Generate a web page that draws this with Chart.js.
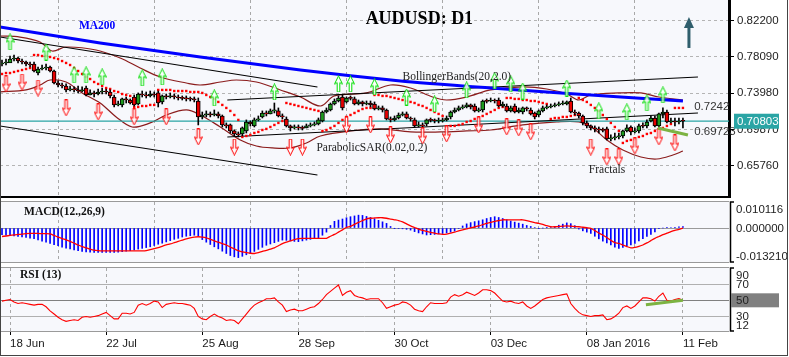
<!DOCTYPE html>
<html><head><meta charset="utf-8">
<script src="https://cdn.jsdelivr.net/npm/chart.js@4.4.1/dist/chart.umd.min.js"></script>
<style>
html,body{margin:0;padding:0;background:#fff;}
#wrap{position:relative;width:789px;height:357px;overflow:hidden;background:#fff;}
canvas{position:absolute;left:0;}
#frame{position:absolute;left:0;top:0;width:786px;height:355px;border-left:1px solid #444;border-right:1px solid #444;border-bottom:1px solid #444;pointer-events:none;}
</style></head>
<body><div id="wrap">
<canvas id="cMain" width="789" height="198" style="top:0px"></canvas>
<canvas id="cMacd" width="789" height="65" style="top:199px"></canvas>
<canvas id="cRsi" width="789" height="92" style="top:265px"></canvas>
<div id="frame"></div>
</div>
<script>
// ---------- data ----------
const xTickIndex = [2,26,50,74,98,122,146,170];
const xTickLabels = ['18 Jun','22 Jul','25 Aug','28 Sep','30 Oct','03 Dec','08 Jan 2016','11 Feb'];
const priceTicks = [0.6576,0.6987,0.7398,0.7809,0.8220];
const lastPrice = 0.70803;
const macdTicks = [0.010116,0,-0.013210];
const rsiTicks = [90,70,50,30,12];

const openP = [0.7729,0.7741,0.7741,0.7786,0.7797,0.7763,0.7752,0.7729,0.7729,0.7627,
0.7673,0.7684,0.7695,0.7650,0.7514,0.7491,0.7480,0.7435,0.7446,0.7435,
0.7423,0.7457,0.7378,0.7401,0.7389,0.7412,0.7423,0.7412,0.7355,0.7265,
0.7265,0.7333,0.7321,0.7355,0.7276,0.7389,0.7378,0.7367,0.7389,0.7401,
0.7299,0.7367,0.7355,0.7367,0.7355,0.7344,0.7344,0.7333,0.7333,0.7310,
0.7129,0.7151,0.7163,0.7151,0.7163,0.7140,0.7038,0.7038,0.6970,0.6936,
0.6936,0.6970,0.7072,0.7027,0.7095,0.7129,0.7174,0.7163,0.7197,0.7197,
0.7140,0.7106,0.7027,0.7004,0.7015,0.7004,0.7004,0.7027,0.7038,0.7049,
0.7083,0.7185,0.7208,0.7276,0.7310,0.7355,0.7299,0.7344,0.7333,0.7276,
0.7299,0.7276,0.7287,0.7276,0.7219,0.7231,0.7208,0.7106,0.7095,0.7117,
0.7151,0.7163,0.7117,0.7095,0.7027,0.7038,0.7049,0.7095,0.7095,0.7083,
0.7083,0.7095,0.7129,0.7185,0.7208,0.7231,0.7242,0.7265,0.7253,0.7197,
0.7208,0.7310,0.7310,0.7321,0.7321,0.7253,0.7253,0.7197,0.7253,0.7185,
0.7185,0.7231,0.7208,0.7174,0.7151,0.7197,0.7231,0.7242,0.7253,0.7265,
0.7276,0.7276,0.7310,0.7185,0.7174,0.7140,0.7061,0.7027,0.7004,0.6993,
0.6981,0.6993,0.6879,0.6891,0.6902,0.6913,0.6970,0.7015,0.6959,0.6970,
0.7027,0.7027,0.7083,0.7117,0.7027,0.7163,0.7185,0.7072,0.7083,0.7072,
0.7083];
const highP = [0.7775,0.7786,0.7820,0.7831,0.7809,0.7786,0.7763,0.7752,0.7752,0.7695,
0.7718,0.7729,0.7707,0.7661,0.7537,0.7514,0.7503,0.7480,0.7469,0.7480,
0.7469,0.7480,0.7435,0.7423,0.7446,0.7457,0.7446,0.7435,0.7378,0.7310,
0.7344,0.7355,0.7333,0.7378,0.7401,0.7423,0.7412,0.7423,0.7412,0.7423,
0.7378,0.7389,0.7401,0.7389,0.7378,0.7367,0.7367,0.7355,0.7355,0.7344,
0.7185,0.7197,0.7185,0.7208,0.7185,0.7151,0.7061,0.7049,0.6981,0.6959,
0.7015,0.7095,0.7083,0.7117,0.7140,0.7197,0.7197,0.7219,0.7287,0.7231,
0.7163,0.7129,0.7038,0.7038,0.7038,0.7027,0.7049,0.7061,0.7072,0.7117,
0.7197,0.7231,0.7287,0.7333,0.7367,0.7378,0.7355,0.7367,0.7355,0.7321,
0.7310,0.7310,0.7310,0.7299,0.7253,0.7253,0.7219,0.7129,0.7140,0.7174,
0.7185,0.7185,0.7129,0.7117,0.7072,0.7061,0.7106,0.7117,0.7106,0.7117,
0.7117,0.7140,0.7197,0.7231,0.7253,0.7265,0.7287,0.7276,0.7276,0.7231,
0.7321,0.7333,0.7344,0.7333,0.7344,0.7299,0.7276,0.7253,0.7276,0.7231,
0.7242,0.7242,0.7231,0.7185,0.7208,0.7253,0.7265,0.7276,0.7287,0.7299,
0.7310,0.7310,0.7344,0.7208,0.7185,0.7151,0.7083,0.7038,0.7027,0.7015,
0.7004,0.7015,0.6925,0.6947,0.6947,0.6981,0.7038,0.7027,0.7004,0.7049,
0.7061,0.7095,0.7140,0.7140,0.7174,0.7231,0.7208,0.7117,0.7117,0.7117,
0.7117];
const lowP = [0.7707,0.7718,0.7752,0.7763,0.7741,0.7729,0.7707,0.7695,0.7639,0.7605,
0.7661,0.7661,0.7639,0.7503,0.7469,0.7457,0.7412,0.7423,0.7412,0.7401,
0.7412,0.7367,0.7378,0.7355,0.7378,0.7389,0.7389,0.7344,0.7242,0.7253,
0.7242,0.7287,0.7276,0.7253,0.7265,0.7355,0.7344,0.7355,0.7355,0.7242,
0.7276,0.7333,0.7344,0.7333,0.7321,0.7321,0.7310,0.7310,0.7299,0.7038,
0.7106,0.7129,0.7129,0.7140,0.7117,0.7015,0.7004,0.6947,0.6913,0.6902,
0.6913,0.6947,0.7027,0.7015,0.7083,0.7117,0.7140,0.7163,0.7174,0.7129,
0.7106,0.7015,0.6970,0.6993,0.6981,0.6981,0.7004,0.7015,0.7027,0.7038,
0.7072,0.7174,0.7197,0.7265,0.7299,0.7208,0.7287,0.7321,0.7265,0.7265,
0.7253,0.7265,0.7242,0.7208,0.7208,0.7185,0.7095,0.7072,0.7083,0.7106,
0.7140,0.7106,0.7083,0.7015,0.7015,0.7004,0.7027,0.7072,0.7061,0.7061,
0.7072,0.7083,0.7106,0.7174,0.7197,0.7219,0.7231,0.7219,0.7185,0.7185,
0.7185,0.7287,0.7299,0.7287,0.7242,0.7242,0.7185,0.7185,0.7174,0.7174,
0.7163,0.7197,0.7151,0.7106,0.7129,0.7185,0.7219,0.7231,0.7242,0.7253,
0.7265,0.7265,0.7174,0.7151,0.7117,0.7038,0.7004,0.6981,0.6959,0.6947,
0.6959,0.6868,0.6857,0.6868,0.6879,0.6891,0.6959,0.6925,0.6947,0.6947,
0.7004,0.7004,0.7072,0.7015,0.7015,0.7117,0.7061,0.7061,0.7027,0.7049,
0.7004];
const closeP = [0.7741,0.7752,0.7786,0.7797,0.7763,0.7752,0.7729,0.7718,0.7650,0.7673,
0.7684,0.7695,0.7650,0.7514,0.7491,0.7480,0.7435,0.7446,0.7435,0.7423,
0.7435,0.7378,0.7401,0.7389,0.7412,0.7423,0.7412,0.7367,0.7265,0.7276,
0.7333,0.7321,0.7287,0.7265,0.7389,0.7378,0.7367,0.7389,0.7378,0.7287,
0.7367,0.7355,0.7367,0.7355,0.7344,0.7340,0.7333,0.7330,0.7321,0.7129,
0.7151,0.7163,0.7151,0.7163,0.7140,0.7038,0.7027,0.6970,0.6936,0.6925,
0.7004,0.7072,0.7049,0.7095,0.7106,0.7174,0.7163,0.7197,0.7208,0.7140,
0.7129,0.7027,0.7004,0.7015,0.7004,0.7000,0.7027,0.7038,0.7049,0.7095,
0.7185,0.7208,0.7276,0.7310,0.7344,0.7231,0.7344,0.7340,0.7276,0.7299,
0.7276,0.7287,0.7265,0.7219,0.7231,0.7208,0.7106,0.7095,0.7117,0.7151,
0.7163,0.7117,0.7106,0.7027,0.7038,0.7027,0.7095,0.7090,0.7083,0.7087,
0.7095,0.7117,0.7185,0.7208,0.7231,0.7242,0.7265,0.7242,0.7197,0.7208,
0.7310,0.7306,0.7321,0.7310,0.7253,0.7276,0.7197,0.7231,0.7185,0.7208,
0.7231,0.7219,0.7163,0.7129,0.7197,0.7231,0.7242,0.7253,0.7265,0.7276,
0.7287,0.7299,0.7185,0.7174,0.7140,0.7061,0.7027,0.7004,0.6993,0.6981,
0.6977,0.6879,0.6891,0.6902,0.6913,0.6970,0.7004,0.6959,0.6970,0.7027,
0.7023,0.7072,0.7117,0.7027,0.7163,0.7185,0.7072,0.7083,0.7072,0.7083,
0.70803];
const sarP = [0.7616,0.7627,0.7627,0.7639,0.7650,0.7661,0.7673,0.7684,
0.7831,0.7831,0.7820,0.7820,0.7809,0.7797,0.7786,0.7763,0.7741,0.7718,0.7684,0.7650,0.7616,0.7582,0.7559,0.7525,0.7503,0.7480,0.7457,0.7446,0.7423,0.7412,0.7389,0.7378,0.7367,
0.7242,0.7242,0.7253,0.7253,0.7265,0.7265,
0.7435,0.7435,0.7435,0.7435,0.7423,0.7423,0.7423,0.7423,0.7412,0.7412,0.7412,0.7401,0.7378,0.7355,0.7333,0.7299,0.7265,0.7231,0.7197,0.7151,0.7095,
0.6902,0.6913,0.6925,0.6947,0.6959,0.6981,0.6993,0.7015,0.7038,0.7061,0.7083,
0.7287,0.7276,0.7265,0.7253,0.7242,0.7231,0.7219,0.7208,0.7197,
0.6970,0.6981,0.7004,0.7027,0.7061,0.7095,0.7129,0.7151,0.7174,0.7197,0.7219,0.7231,0.7231,
0.7378,0.7378,0.7367,0.7367,0.7355,0.7344,0.7333,0.7321,0.7310,0.7299,0.7287,0.7265,0.7253,0.7231,0.7208,0.7185,0.7163,0.7140,
0.7015,0.7027,0.7027,0.7038,0.7049,0.7072,0.7083,0.7106,0.7117,0.7140,0.7163,0.7185,0.7208,0.7231,0.7242,
0.7344,0.7344,0.7333,0.7333,0.7321,0.7321,0.7310,0.7310,0.7299,0.7287,0.7276,
0.7106,0.7117,0.7117,0.7129,0.7129,0.7140,0.7151,
0.7344,0.7321,0.7299,0.7265,0.7231,0.7197,0.7151,0.7106,0.7061,0.7015,0.6970,
0.6834,0.6857,0.6868,0.6879,0.6902,0.6913,0.6936,0.6947,0.6970,0.6993,0.7004,0.7027,0.7049,
0.7231,0.7231,0.7231];

const ma200Idx = [-0.5,24.5,49.5,74.5,99.5,122,139.5,154.5,170];
const ma200Val = [0.8149,0.7967,0.7809,0.7661,0.7537,0.7457,0.7401,0.7355,0.7310];

const bbUpperIdx = [-0.5,4.5,9.5,12.5,16,23.5,29.5,34.5,39.5,46,49.5,54.5,58.5,63.5,69.5,74.5,79.5,83,91,97,102,107.5,111,116,122,130,136,141,144,147,154,159.5,164,170];
const bbUpperVal = [0.8047,0.8035,0.7979,0.7877,0.7922,0.7888,0.7797,0.7684,0.7582,0.7514,0.7491,0.7525,0.7548,0.7525,0.7435,0.7355,0.7253,0.7367,0.7401,0.7491,0.7457,0.7355,0.7321,0.7355,0.7435,0.7469,0.7446,0.7389,0.7321,0.7378,0.7401,0.7401,0.7355,0.7321];
const bbLowerIdx = [-0.5,6,9.5,12,16,20,24.5,28.5,32.5,37,41,46,49.5,54.5,59.5,63.5,67.5,72,76,79.5,87,94.5,102,109.5,116,122,130,138.5,144,147.5,151,155,159.5,163.5,167.5,170];
const bbLowerVal = [0.7412,0.7435,0.7491,0.7548,0.7525,0.7401,0.7287,0.7129,0.7015,0.7061,0.7151,0.7208,0.7151,0.7015,0.6868,0.6799,0.6777,0.6777,0.6834,0.6913,0.6970,0.6993,0.6959,0.6959,0.6970,0.6981,0.7038,0.7072,0.7072,0.7004,0.6868,0.6754,0.6675,0.6652,0.6697,0.6743];

const fracUpIdx = [2,11,18,21,25,35,40,53,68,84,87,93,101,108,116,123,127,130,141,149,156,161,165];
const fracUpVal = [0.7979,0.7865,0.7605,0.7605,0.7582,0.7571,0.7582,0.7344,0.7412,0.7503,0.7503,0.7469,0.7355,0.7276,0.7435,0.7537,0.7503,0.7423,0.7457,0.7197,0.7185,0.7287,0.7378];
const fracDnIdx = [1,5,9,16,24,33,41,49,58,72,75,86,92,97,105,111,119,126,129,132,147,151,154,158,164,168];
const fracDnVal = [0.7503,0.7525,0.7457,0.7231,0.7185,0.7129,0.7129,0.6902,0.6788,0.6788,0.6788,0.7038,0.7038,0.6925,0.6913,0.6936,0.7038,0.7015,0.7004,0.6959,0.6788,0.6675,0.6675,0.6800,0.6902,0.6834];

const trendUpperIdx = [-0.5,78.75];   const trendUpperVal = [0.8035,0.7469];
const trendLowerIdx = [-0.5,78.75];   const trendLowerVal = [0.7026,0.6470];
const supportIdx = [56.25,173.75];    const supportVal = [0.6902,0.7174];
const resistIdx = [56.25,173.75];     const resistVal = [0.7321,0.7582];
const greenMainIdx = [163.75,171.25]; const greenMainVal = [0.7004,0.6924];
const greenRsiIdx = [160.75,170];     const greenRsiVal = [44.6,50];

const macdHist = [-0.0026,-0.0028,-0.0030,-0.0031,-0.0033,-0.0035,-0.0037,-0.0039,-0.0041,-0.0046,
-0.0051,-0.0055,-0.0060,-0.0065,-0.0069,-0.0074,-0.0078,-0.0081,-0.0085,-0.0088,
-0.0091,-0.0093,-0.0094,-0.0095,-0.0095,-0.0095,-0.0095,-0.0095,-0.0095,-0.0094,
-0.0092,-0.0090,-0.0088,-0.0085,-0.0082,-0.0079,-0.0076,-0.0073,-0.0068,-0.0063,
-0.0059,-0.0054,-0.0049,-0.0044,-0.0040,-0.0035,-0.0032,-0.0030,-0.0028,-0.0030,
-0.0045,-0.0055,-0.0064,-0.0073,-0.0081,-0.0090,-0.0099,-0.0107,-0.0112,-0.0115,
-0.0110,-0.0104,-0.0099,-0.0091,-0.0083,-0.0075,-0.0067,-0.0062,-0.0057,-0.0052,
-0.0047,-0.0048,-0.0050,-0.0052,-0.0053,-0.0050,-0.0047,-0.0044,-0.0041,-0.0038,
-0.0028,-0.0016,0.0010,0.0026,0.0031,0.0035,0.0040,0.0044,0.0047,0.0050,
0.0049,0.0045,0.0041,0.0036,0.0030,0.0024,0.0018,0.0006,-0.0001,-0.0002,
-0.0003,-0.0005,-0.0008,-0.0014,-0.0019,-0.0023,-0.0027,-0.0026,-0.0025,-0.0023,
-0.0021,-0.0019,-0.0016,-0.0012,-0.0002,0.0008,0.0016,0.0021,0.0025,0.0028,
0.0032,0.0037,0.0041,0.0044,0.0041,0.0037,0.0032,0.0027,0.0023,0.0019,
0.0015,0.0010,0.0006,0.0002,-0.0001,0.0000,0.0001,0.0002,0.0006,0.0011,
0.0015,0.0020,0.0017,0.0009,-0.0004,-0.0011,-0.0016,-0.0021,-0.0032,-0.0042,
-0.0051,-0.0058,-0.0066,-0.0074,-0.0079,-0.0075,-0.0070,-0.0066,-0.0060,-0.0050,
-0.0041,-0.0033,-0.0025,-0.0015,-0.0003,0.0000,0.0001,0.0002,0.0003,0.0005,
0.0006];
const macdSignal = [-0.0033,-0.0031,-0.0029,-0.0027,-0.0025,-0.0024,-0.0022,-0.0021,-0.0021,-0.0021,
-0.0022,-0.0022,-0.0023,-0.0029,-0.0035,-0.0041,-0.0046,-0.0052,-0.0059,-0.0066,
-0.0072,-0.0077,-0.0082,-0.0086,-0.0088,-0.0089,-0.0089,-0.0089,-0.0089,-0.0089,
-0.0089,-0.0089,-0.0089,-0.0089,-0.0089,-0.0089,-0.0088,-0.0084,-0.0080,-0.0076,
-0.0071,-0.0066,-0.0062,-0.0057,-0.0052,-0.0047,-0.0042,-0.0038,-0.0035,-0.0034,
-0.0035,-0.0038,-0.0044,-0.0050,-0.0055,-0.0061,-0.0066,-0.0074,-0.0081,-0.0088,
-0.0093,-0.0096,-0.0098,-0.0099,-0.0096,-0.0091,-0.0087,-0.0082,-0.0077,-0.0069,
-0.0061,-0.0055,-0.0050,-0.0045,-0.0041,-0.0040,-0.0040,-0.0040,-0.0040,-0.0040,
-0.0040,-0.0040,-0.0032,-0.0025,-0.0016,-0.0007,0.0002,0.0006,0.0014,0.0022,
0.0029,0.0036,0.0038,0.0039,0.0040,0.0040,0.0038,0.0035,0.0032,0.0029,
0.0024,0.0016,0.0008,0.0002,-0.0004,-0.0009,-0.0013,-0.0017,-0.0020,-0.0023,
-0.0025,-0.0024,-0.0020,-0.0016,-0.0011,-0.0007,-0.0003,0.0001,0.0004,0.0008,
0.0013,0.0018,0.0022,0.0026,0.0029,0.0032,0.0032,0.0032,0.0032,0.0032,
0.0032,0.0029,0.0025,0.0021,0.0018,0.0014,0.0009,0.0005,0.0005,0.0006,
0.0007,0.0008,0.0007,0.0006,0.0005,0.0003,0.0001,-0.0001,-0.0010,-0.0020,
-0.0027,-0.0037,-0.0048,-0.0057,-0.0060,-0.0066,-0.0072,-0.0077,-0.0075,-0.0071,
-0.0066,-0.0058,-0.0049,-0.0040,-0.0033,-0.0026,-0.0020,-0.0014,-0.0009,-0.0005,
0.0000];
const rsiVal = [49,50,51,48,46,47,46,45,44,45,
45,42,37,33,29,26,24,25,26,25,
29,30,29,30,31,33,35,31,27,27,
34,34,33,35,44,46,44,46,49,48,
41,45,46,47,46,46,45,44,40,30,
27,26,30,33,30,28,25,26,25,21,
27,33,39,44,47,49,52,52,53,48,
44,36,38,39,37,37,39,41,42,46,
51,57,61,65,69,56,60,62,56,54,
53,51,52,52,52,47,40,42,44,45,
48,47,44,39,37,36,42,47,46,46,
46,47,54,57,55,57,60,58,56,59,
63,63,62,59,54,49,48,49,47,46,
48,43,40,43,47,51,53,54,55,56,
57,58,46,40,35,32,31,30,31,31,
32,26,27,30,34,41,43,40,43,48,
53,53,52,49,55,59,50,49,51,52,
50];

// ---------- annotations (text + arrow) in data coordinates ----------
const mainLabels = [
  {text:'AUDUSD: D1', i:104.2, v:0.8240, font:'bold 18px "Liberation Serif"', color:'#000', align:'center'},
  {text:'MA200', i:19.2, v:0.8160, font:'bold 11.5px "Liberation Serif"', color:'#0000ff', align:'left'},
  {text:'BollingerBands(20,2.0)', i:100, v:0.7582, font:'11.5px "Liberation Serif"', color:'#222', align:'left'},
  {text:'ParabolicSAR(0.02,0.2)', i:78.5, v:0.6777, font:'11.5px "Liberation Serif"', color:'#222', align:'left'},
  {text:'Fractals', i:146.5, v:0.6527, font:'11.5px "Liberation Serif"', color:'#222', align:'left'},
  {text:'0.7242', i:172.8, v:0.7242, font:'11.5px "Liberation Sans"', color:'#333', align:'left'},
  {text:'0.69723', i:172.8, v:0.6965, font:'11.5px "Liberation Sans"', color:'#333', align:'left'}
];
const arrowUp = {i:171.5, from:0.7911, to:0.8262};
const macdLabel = {text:'MACD(12.,26,9)', i:5.5, v:0.0062};
const rsiLabel = {text:'RSI (13)', i:4.5, v:81};

// ---------- helpers ----------
const pts = (xs, ys) => xs.map((x,k)=>({x:x, y:ys[k]}));
const idx = arr => arr.map((v,i)=>({x:i, y:v}));
const plotBg = '#f7f8fc';
Chart.defaults.font.family = '"Liberation Sans", Arial, sans-serif';

function arrowImg(up, color){
  // outlined arrow glyph (like the MetaTrader fractal marks)
  const c = document.createElement('canvas'); c.width = 9; c.height = 17;
  const g = c.getContext('2d');
  const P = [[4.5,0.5],[8.5,8.5],[5.8,7.2],[5.8,16.5],[3.2,16.5],[3.2,7.2],[0.5,8.5]];
  g.beginPath();
  P.forEach((p,k)=>{ const yy = up ? p[1] : 17 - p[1]; if(k===0) g.moveTo(p[0],yy); else g.lineTo(p[0],yy); });
  g.closePath();
  g.fillStyle = 'rgba(255,255,255,0.85)'; g.fill();
  g.strokeStyle = color; g.lineWidth = 1; g.stroke();
  return c;
}
const upImg = arrowImg(true,'#00dd00');
const dnImg = arrowImg(false,'#ff0000');

function xScale(showLabels, borderOn){
  return {
    type:'linear', min:-0.5, max:181.5, bounds:'data', offset:false,
    afterBuildTicks: s => { s.ticks = xTickIndex.map(v=>({value:v})); },
    afterFit: s => { s.height = showLabels ? 25 : 0; s.paddingLeft = 0; s.paddingRight = 0; },
    grid:{ color:'#a8a8a8', lineWidth:1, drawTicks:showLabels, tickLength:4, tickColor:'#000', tickWidth:1, tickBorderDash:[] },
    border:{ display:borderOn, color:'#000', width:2, dash:[3,3] },
    ticks:{ display:showLabels, autoSkip:false, maxRotation:0, minRotation:0, align:'start', padding:2,
            color:'#1a1a1a', font:{size:11.5}, callback:(v,i)=>xTickLabels[i] }
  };
}

const bgPlugin = { id:'plotBg', beforeDraw(chart){ const {ctx, chartArea:a} = chart; ctx.save(); ctx.fillStyle = plotBg; ctx.fillRect(a.left, a.top, a.right-a.left, a.bottom-a.top); ctx.restore(); } };

function drawLabel(chart, l){
  const {ctx, scales:{x,y}} = chart;
  ctx.font = l.font; ctx.fillStyle = l.color; ctx.textAlign = l.align || 'left'; ctx.textBaseline = 'middle';
  ctx.fillText(l.text, x.getPixelForValue(l.i), y.getPixelForValue(l.v));
}

const mainOverlay = { id:'mainOverlay', afterDraw(chart){
  const {ctx, scales:{x,y}, chartArea:a} = chart;
  ctx.save();
  mainLabels.forEach(l=>drawLabel(chart,l));
  const xa = x.getPixelForValue(arrowUp.i), yt = y.getPixelForValue(arrowUp.to), yb = y.getPixelForValue(arrowUp.from);
  ctx.fillStyle = '#2f5e6c';
  ctx.fillRect(xa-1.5, yt+9, 3, yb-yt-9);
  ctx.beginPath(); ctx.moveTo(xa, yt); ctx.lineTo(xa+5, yt+11); ctx.lineTo(xa-5, yt+11); ctx.closePath(); ctx.fill();
  const yp = y.getPixelForValue(lastPrice);
  ctx.fillStyle = '#2aa5a5';
  ctx.fillRect(a.right+5, yp-7.5, 45, 15);
  ctx.fillStyle = '#ffffff'; ctx.font = '11.5px "Liberation Sans"'; ctx.textAlign='left'; ctx.textBaseline='middle';
  ctx.fillText(lastPrice.toFixed(5), a.right+8, yp+0.5);
  ctx.restore();
}};

function subOverlay(ticks, fmt, title, hiliteVal){
  return { id:'subOverlay', afterDraw(chart){
    const {ctx, scales:{y}, chartArea:a} = chart;
    ctx.save();
    ctx.strokeStyle = '#9a9a9a'; ctx.lineWidth = 1;
    ctx.beginPath(); ctx.moveTo(0, a.top-0.5); ctx.lineTo(a.right, a.top-0.5); ctx.moveTo(0, a.bottom+0.5); ctx.lineTo(a.right, a.bottom+0.5); ctx.stroke();
    ctx.strokeStyle = '#000'; ctx.lineWidth = 1.5;
    ctx.beginPath(); ctx.moveTo(a.right+5, a.top); ctx.lineTo(a.right+1.5, a.top); ctx.lineTo(a.right+1.5, a.bottom); ctx.lineTo(a.right+5, a.bottom); ctx.stroke();
    drawLabel(chart, {text:title.text, i:title.i, v:title.v, font:'bold 11.5px "Liberation Serif"', color:'#111', align:'left'});
    ctx.font = '11.5px "Liberation Sans"'; ctx.textAlign='left'; ctx.textBaseline='middle';
    ticks.forEach(v=>{
      let py = y.getPixelForValue(v);
      py = Math.min(Math.max(py, a.top+7), a.bottom-6);
      if (v === hiliteVal){ ctx.fillStyle = '#808080'; ctx.fillRect(a.right+2, py-7, 48, 14); }
      ctx.fillStyle = '#222';
      ctx.fillText(fmt(v), a.right+7, py+0.5);
    });
    ctx.restore();
  }};
}

const baseOpts = { responsive:false, maintainAspectRatio:false, devicePixelRatio:1, animation:false, events:[],
  plugins:{ legend:{display:false}, tooltip:{enabled:false} } };

// ---------- main price chart ----------
const bodyColors = closeP.map((c,i)=> c>openP[i] ? '#1e9a1e' : (c<openP[i] ? '#e80000' : '#000'));
const lineDs = (data, color, width, order, tension) => ({ type:'line', data, borderColor:color, borderWidth:width, pointRadius:0, tension:tension||0, order, fill:false });

new Chart(document.getElementById('cMain'), {
  type:'line',
  data:{ datasets:[
    lineDs(pts(bbUpperIdx,bbUpperVal), '#8b1c1c', 1.2, 9, 0.35),
    lineDs(pts(bbLowerIdx,bbLowerVal), '#8b1c1c', 1.2, 9, 0.35),
    lineDs(pts(trendUpperIdx,trendUpperVal), '#000', 1.1, 8),
    lineDs(pts(trendLowerIdx,trendLowerVal), '#000', 1.1, 8),
    lineDs(pts(supportIdx,supportVal), '#000', 1.1, 8),
    lineDs(pts(resistIdx,resistVal), '#000', 1.1, 8),
    lineDs([{x:-0.5,y:lastPrice},{x:181.5,y:lastPrice}], '#2aa5a5', 1.2, 8),
    { type:'line', data:idx(sarP), showLine:false, pointStyle:'rect', pointRadius:1.7, pointBackgroundColor:'#ff0000', pointBorderWidth:0, order:7 },
    { type:'bar', data:closeP.map((c,i)=>({x:i, y:[lowP[i], highP[i]]})), barThickness:1, backgroundColor:'#000', grouped:false, order:6 },
    { type:'bar', data:closeP.map((c,i)=>({x:i, y:[openP[i], c]})), barThickness:4, backgroundColor:bodyColors, borderColor:'#000', borderWidth:1, borderSkipped:false, grouped:false, minBarLength:1, order:5 },
    lineDs(pts(ma200Idx,ma200Val), '#0000ff', 3, 4, 0.2),
    { type:'line', data:pts(fracUpIdx,fracUpVal), showLine:false, pointStyle:upImg, order:3 },
    { type:'line', data:pts(fracDnIdx,fracDnVal), showLine:false, pointStyle:dnImg, order:3 },
    lineDs(pts(greenMainIdx,greenMainVal), '#7cb342', 3, 2)
  ]},
  options: Object.assign({}, baseOpts, {
    layout:{ autoPadding:false, padding:{left:0,right:0,top:0,bottom:1} },
    scales:{
      x: xScale(false, true),
      y: { type:'linear', position:'right', min:0.6221, max:0.8455, bounds:'data',
        afterBuildTicks: s=>{ s.ticks = priceTicks.map(v=>({value:v})); },
        afterFit: s=>{ s.width = 60; s.paddingTop = 0; s.paddingBottom = 0; },
        grid:{ color:'#b4b4b4', drawTicks:true, tickLength:5, tickColor:'#000', tickWidth:1, tickBorderDash:[] },
        border:{ display:true, color:'#000', width:3, dash:[3,3] },
        ticks:{ padding:3, color:'#222', font:{size:11.5}, callback:v=>Number(v).toFixed(5) } }
    }
  }),
  plugins:[bgPlugin, mainOverlay]
});

// ---------- MACD ----------
new Chart(document.getElementById('cMacd'), {
  type:'line',
  data:{ datasets:[
    { type:'bar', data:idx(macdHist), barThickness:1, backgroundColor:'#0000ff', grouped:false, order:2 },
    { type:'line', data:idx(macdSignal), borderColor:'#ff0000', borderWidth:1.3, pointRadius:0, tension:0.2, order:1 }
  ]},
  options: Object.assign({}, baseOpts, {
    layout:{ autoPadding:false, padding:{left:0,right:0,top:3,bottom:2} },
    scales:{
      x: xScale(false, false),
      y: { type:'linear', position:'right', min:-0.013210, max:0.010116, bounds:'data',
        afterBuildTicks: s=>{ s.ticks = [{value:0}]; },
        afterFit: s=>{ s.width = 60; s.paddingTop = 0; s.paddingBottom = 0; },
        grid:{ color:'#9a9a9a', drawTicks:false },
        border:{ display:false },
        ticks:{ display:false } }
    }
  }),
  plugins:[bgPlugin, subOverlay(macdTicks, v=>v.toFixed(6), macdLabel, null)]
});

// ---------- RSI ----------
new Chart(document.getElementById('cRsi'), {
  type:'line',
  data:{ datasets:[
    { type:'line', data:idx(rsiVal), borderColor:'#ff0000', borderWidth:1.1, pointRadius:0, tension:0, order:2 },
    { type:'line', data:pts(greenRsiIdx,greenRsiVal), borderColor:'#7cb342', borderWidth:3, pointRadius:0, order:1 }
  ]},
  options: Object.assign({}, baseOpts, {
    layout:{ autoPadding:false, padding:{left:0,right:0,top:3,bottom:1} },
    scales:{
      x: xScale(true, false),
      y: { type:'linear', position:'right', min:12, max:90, bounds:'data',
        afterBuildTicks: s=>{ s.ticks = [30,50,70].map(v=>({value:v})); },
        afterFit: s=>{ s.width = 60; s.paddingTop = 0; s.paddingBottom = 0; },
        grid:{ color: c => (c.tick && c.tick.value === 50) ? '#808080' : '#b0b0b0', drawTicks:false },
        border:{ display:false },
        ticks:{ display:false } }
    }
  }),
  plugins:[bgPlugin, subOverlay(rsiTicks, v=>String(v), rsiLabel, 50)]
});
</script>
</body></html>
